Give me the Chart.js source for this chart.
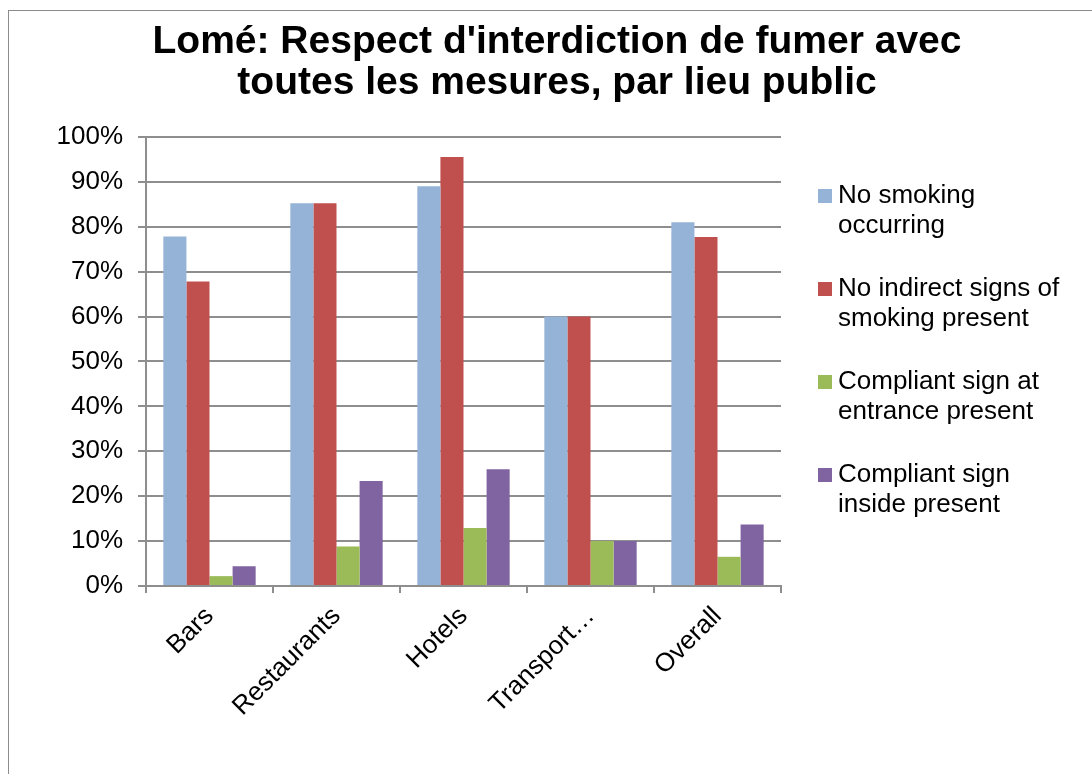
<!DOCTYPE html>
<html>
<head>
<meta charset="utf-8">
<script src="https://cdn.jsdelivr.net/npm/chart.js@4"></script>
<style>
  html, body { margin: 0; padding: 0; background: #fff; overflow: hidden; }
  #wrap { width: 1092px; height: 774px; overflow: hidden; }
</style>
</head>
<body>
<div id="wrap"><canvas id="chart" width="1114" height="774"></canvas></div>
<script>
const places = ["Bars", "Restaurants", "Hotels", "Transport…", "Overall"];
const noSmoking = [77.8, 85.2, 89.0, 60.0, 81.0];
const noIndirectSigns = [67.8, 85.2, 95.5, 60.0, 77.7];
const signEntrance = [2.2, 8.8, 12.9, 10.0, 6.5];
const signInside = [4.4, 23.4, 26.0, 10.0, 13.7];
const yTicks = [0, 10, 20, 30, 40, 50, 60, 70, 80, 90, 100];

const titleLines = ["Lomé: Respect d'interdiction de fumer avec", "toutes les mesures, par lieu public"];
const legendLines = [
    ["No smoking", "occurring"],
    ["No indirect signs of", "smoking present"],
    ["Compliant sign at", "entrance present"],
    ["Compliant sign", "inside present"]
];

const FONT = "'Liberation Sans', Arial, sans-serif";
const GRID = "#8e8e8e";

// frame of the chart object (runs off the right/bottom of the picture)
const framePlugin = {
    id: "frame",
    beforeDraw(chart) {
        const ctx = chart.ctx;
        ctx.save();
        ctx.fillStyle = "#fff";
        ctx.fillRect(0, 0, chart.width, chart.height);
        ctx.strokeStyle = "#8c8c8c";
        ctx.lineWidth = 1;
        ctx.strokeRect(8.5, 10.5, 2000, 2000);
        ctx.restore();
    }
};

// legend with wrapped labels, drawn in the space kept free on the right
const sideLegend = {
    id: "sideLegend",
    afterDraw(chart) {
        const ctx = chart.ctx;
        const x0 = chart.chartArea.right + 37;
        ctx.save();
        ctx.font = "26px " + FONT;
        ctx.textBaseline = "alphabetic";
        ctx.textAlign = "left";
        chart.data.datasets.forEach((ds, i) => {
            const base = 203 + i * 93;
            ctx.fillStyle = ds.backgroundColor;
            ctx.fillRect(x0, base - 14, 14, 14);
            ctx.fillStyle = "#000";
            legendLines[i].forEach((line, j) => {
                ctx.fillText(line, x0 + 20, base + j * 30);
            });
        });
        ctx.restore();
    }
};

new Chart(document.getElementById("chart").getContext("2d"), {
    type: "bar",
    data: {
        labels: places,
        datasets: [
            { label: "No smoking occurring", data: noSmoking, backgroundColor: "#95B3D7" },
            { label: "No indirect signs of smoking present", data: noIndirectSigns, backgroundColor: "#C0504D" },
            { label: "Compliant sign at entrance present", data: signEntrance, backgroundColor: "#9BBB59" },
            { label: "Compliant sign inside present", data: signInside, backgroundColor: "#8064A2" }
        ]
    },
    options: {
        responsive: false,
        animation: false,
        layout: { padding: 0 },
        datasets: {
            bar: { categoryPercentage: 0.727, barPercentage: 1, borderWidth: 0 }
        },
        plugins: {
            legend: { display: false },
            tooltip: { enabled: false },
            title: {
                display: true,
                text: titleLines,
                color: "#000",
                font: { family: FONT, size: 39, weight: "bold", lineHeight: 1.05 },
                padding: { top: 22, bottom: 33 }
            }
        },
        scales: {
            x: {
                offset: true,
                grid: { display: true, drawOnChartArea: false, drawTicks: true, tickLength: 7, color: GRID, lineWidth: 2 },
                border: { display: true, color: GRID, width: 2 },
                ticks: { color: "#000", font: { family: FONT, size: 26 }, minRotation: 45, maxRotation: 45, padding: 8 },
                afterFit: s => { s.height = 188; }
            },
            y: {
                min: 0,
                max: 100,
                afterBuildTicks: s => { s.ticks = yTicks.map(v => ({ value: v })); },
                grid: { color: GRID, lineWidth: 2, tickLength: 8, drawTicks: true },
                border: { display: true, color: GRID, width: 2 },
                ticks: { color: "#000", font: { family: FONT, size: 26 }, padding: 15, callback: v => v + "%" },
                afterFit: s => { s.width = 146; }
            },
            legendSpace: {
                type: "linear",
                position: "right",
                display: true,
                grid: { display: false },
                border: { display: false },
                ticks: { display: false },
                afterFit: s => { s.width = 333; }
            }
        }
    },
    plugins: [framePlugin, sideLegend]
});
</script>
</body>
</html>
